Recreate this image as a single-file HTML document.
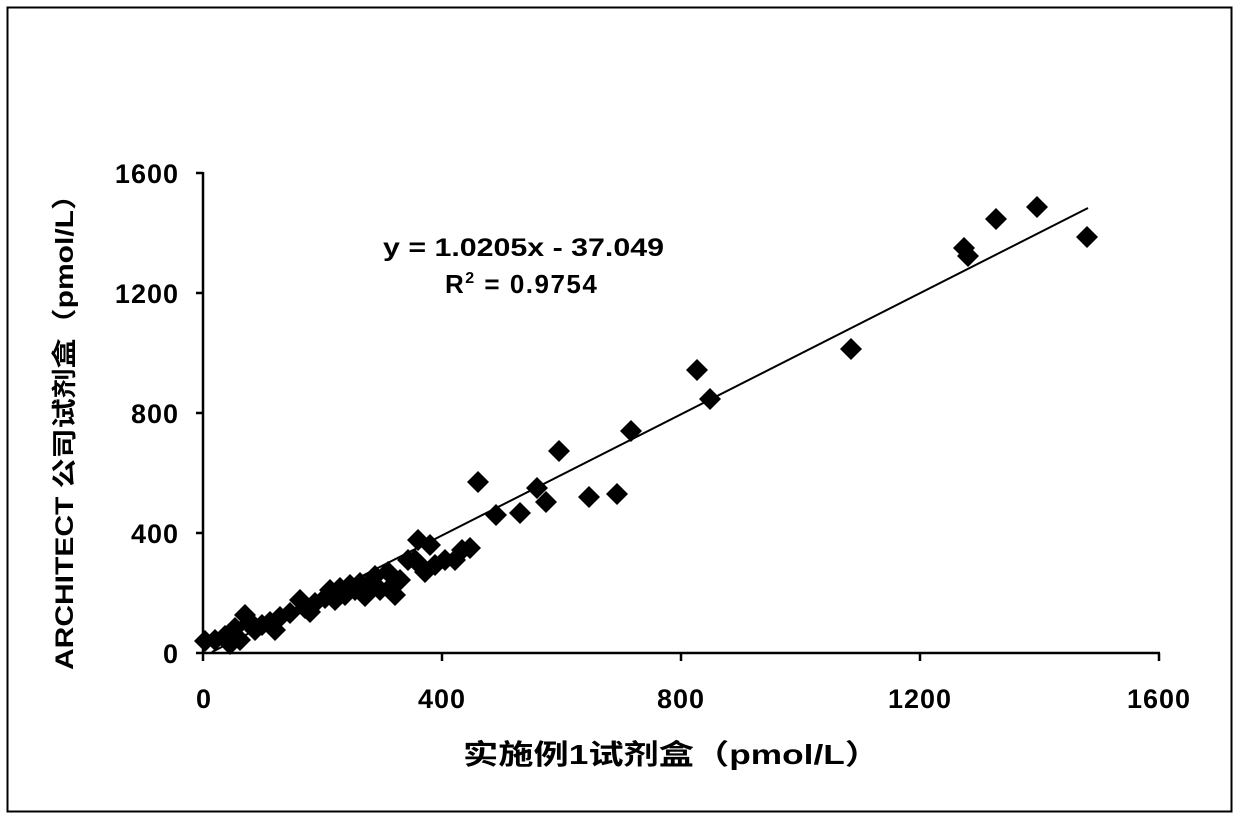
<!DOCTYPE html>
<html><head><meta charset="utf-8"><style>
body{margin:0;background:#fff}
text{font-family:"Liberation Sans","Noto Sans CJK SC",sans-serif;fill:#000;font-weight:bold}
</style></head><body>
<svg width="1240" height="818" xmlns="http://www.w3.org/2000/svg">
<defs><polygon id="d" points="0,-11 11,0 0,11 -11,0"/></defs>
<rect x="7.5" y="7.5" width="1224" height="804" fill="#fff" stroke="#000" stroke-width="2"/>
<g stroke="#000" stroke-width="2.5" fill="none">
<line x1="203" y1="172" x2="203" y2="654"/>
<line x1="202" y1="653" x2="1160" y2="653"/>
<line x1="196" y1="173" x2="203" y2="173"/>
<line x1="196" y1="293" x2="203" y2="293"/>
<line x1="196" y1="413" x2="203" y2="413"/>
<line x1="196" y1="533" x2="203" y2="533"/>
<line x1="196" y1="653" x2="203" y2="653"/>
<line x1="203" y1="653" x2="203" y2="661"/>
<line x1="442" y1="653" x2="442" y2="661"/>
<line x1="681" y1="653" x2="681" y2="661"/>
<line x1="920" y1="653" x2="920" y2="661"/>
<line x1="1159" y1="653" x2="1159" y2="661"/>
</g>
<line x1="212" y1="652" x2="1088" y2="208" stroke="#000" stroke-width="2"/>
<g font-size="27" text-anchor="end" letter-spacing="1">
<text x="179" y="183">1600</text><text x="179" y="303">1200</text><text x="179" y="423">800</text><text x="179" y="543">400</text><text x="179" y="663">0</text>
</g>
<g font-size="27" text-anchor="middle" letter-spacing="1">
<text x="204" y="708">0</text><text x="442" y="708">400</text><text x="681" y="708">800</text><text x="920" y="708">1200</text><text x="1159" y="708">1600</text>
</g>
<text x="383" y="256" font-size="25" textLength="281" lengthAdjust="spacingAndGlyphs">y = 1.0205x - 37.049</text>
<text x="445" y="293" font-size="26" letter-spacing="1.5">R<tspan font-size="16" dy="-10">2</tspan><tspan dy="10"> = 0.9754</tspan></text>
<text x="463" y="764" font-size="28" textLength="417" lengthAdjust="spacingAndGlyphs">实施例1试剂盒（pmol/L）</text>
<text transform="translate(73,670) rotate(-90)" font-size="25" textLength="490" lengthAdjust="spacingAndGlyphs">ARCHITECT 公司试剂盒（pmol/L）</text>
<g fill="#000">
<use href="#d" x="1087" y="237"/><use href="#d" x="1037" y="207"/><use href="#d" x="996" y="219"/>
<use href="#d" x="968" y="256"/><use href="#d" x="964" y="248"/><use href="#d" x="851" y="349"/>
<use href="#d" x="710" y="399"/><use href="#d" x="697" y="370"/><use href="#d" x="631" y="431"/>
<use href="#d" x="559" y="451"/><use href="#d" x="589" y="497"/><use href="#d" x="546" y="502"/>
<use href="#d" x="537" y="488"/><use href="#d" x="617" y="494"/><use href="#d" x="520" y="513"/>
<use href="#d" x="496" y="515"/><use href="#d" x="478" y="482"/>
<use href="#d" x="205" y="641"/><use href="#d" x="215" y="640"/><use href="#d" x="225" y="636"/>
<use href="#d" x="235" y="628"/><use href="#d" x="245" y="615"/><use href="#d" x="250" y="622"/>
<use href="#d" x="255" y="630"/><use href="#d" x="262" y="625"/><use href="#d" x="270" y="622"/>
<use href="#d" x="280" y="617"/><use href="#d" x="290" y="613"/><use href="#d" x="300" y="600"/>
<use href="#d" x="305" y="608"/><use href="#d" x="315" y="603"/><use href="#d" x="325" y="598"/>
<use href="#d" x="330" y="590"/><use href="#d" x="335" y="600"/><use href="#d" x="345" y="595"/>
<use href="#d" x="355" y="590"/><use href="#d" x="360" y="583"/><use href="#d" x="365" y="596"/>
<use href="#d" x="375" y="576"/><use href="#d" x="380" y="590"/><use href="#d" x="390" y="588"/>
<use href="#d" x="395" y="595"/><use href="#d" x="400" y="580"/><use href="#d" x="408" y="560"/>
<use href="#d" x="415" y="560"/><use href="#d" x="420" y="565"/><use href="#d" x="425" y="572"/>
<use href="#d" x="435" y="565"/><use href="#d" x="445" y="560"/><use href="#d" x="455" y="560"/>
<use href="#d" x="462" y="550"/><use href="#d" x="470" y="548"/><use href="#d" x="430" y="545"/>
<use href="#d" x="418" y="540"/><use href="#d" x="388" y="572"/><use href="#d" x="350" y="585"/>
<use href="#d" x="310" y="612"/><use href="#d" x="275" y="630"/><use href="#d" x="240" y="640"/>
<use href="#d" x="230" y="644"/><use href="#d" x="370" y="585"/><use href="#d" x="340" y="588"/>
</g>
</svg>
</body></html>
